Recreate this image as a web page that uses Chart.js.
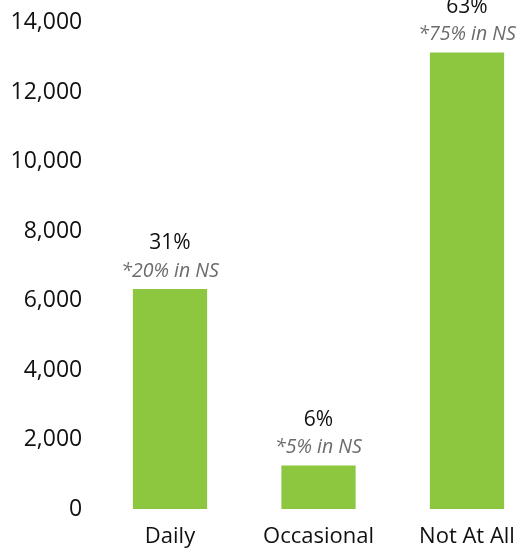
<!DOCTYPE html>
<html>
<head>
<meta charset="utf-8">
<script src="https://cdn.jsdelivr.net/npm/chart.js@4.4.0/dist/chart.umd.min.js"></script>
<style>
  html, body { margin: 0; padding: 0; background: #fff; }
  #wrap { width: 521px; height: 550px; overflow: hidden; position: relative; }
  #chart { position: absolute; left: 0; top: 0; }
</style>
</head>
<body>
<div id="wrap"><canvas id="chart" width="545" height="550"></canvas></div>
<script>
// Dữ liệu biểu đồ
const categories = ['Daily', 'Occasional', 'Not At All'];
const counts = [6330, 1250, 13140];
const pctLabels = ['31%', '6%', '63%'];
const nsLabels = ['*20% in NS', '*5% in NS', '*75% in NS'];
const yTicks = [0, 2000, 4000, 6000, 8000, 10000, 12000, 14000];

const FONT = "'Open Sans', 'DejaVu Sans', sans-serif";

// Vẽ nhãn phần trăm phía trên mỗi cột
const barLabels = {
  id: 'barLabels',
  afterDatasetsDraw(chart) {
    const ctx = chart.ctx;
    const meta = chart.getDatasetMeta(0);
    ctx.save();
    ctx.textAlign = 'center';
    ctx.textBaseline = 'middle';
    meta.data.forEach((bar, i) => {
      ctx.fillStyle = '#111111';
      ctx.font = `21px ${FONT}`;
      ctx.fillText(pctLabels[i], bar.x, bar.y - 46);
      ctx.fillStyle = '#6b6b6b';
      ctx.font = `italic 19.5px ${FONT}`;
      ctx.fillText(nsLabels[i], bar.x, bar.y - 18);
    });
    ctx.restore();
  }
};

new Chart(document.getElementById('chart'), {
  type: 'bar',
  data: {
    labels: categories,
    datasets: [{
      data: counts,
      backgroundColor: '#8dc63f',
      borderWidth: 0,
      barPercentage: 0.5,
      categoryPercentage: 1.0
    }]
  },
  options: {
    responsive: false,
    animation: false,
    devicePixelRatio: 1,
    // canvas rộng hơn cửa sổ để cột cuối bị cắt như ảnh gốc
    layout: { padding: { top: 22.5, right: 3.75, bottom: 0, left: 0 } },
    plugins: {
      legend: { display: false },
      tooltip: { enabled: false }
    },
    scales: {
      x: {
        grid: { display: false, drawTicks: false },
        border: { display: false },
        ticks: { color: '#111111', font: { family: FONT, size: 22 }, padding: 15 },
        afterFit: (s) => { s.height = 41; }
      },
      y: {
        min: 0,
        max: 14000,
        grid: { display: false, drawTicks: false },
        border: { display: false },
        afterBuildTicks: (s) => { s.ticks = yTicks.map(v => ({ value: v })); },
        ticks: {
          color: '#111111',
          font: { family: FONT, size: 23, lineHeight: 0.8 },
          padding: 13.5,
          callback: (v) => v.toLocaleString('en-US')
        },
        afterFit: (s) => { s.width = 95.75; }
      }
    }
  },
  plugins: [barLabels]
});
</script>
</body>
</html>
